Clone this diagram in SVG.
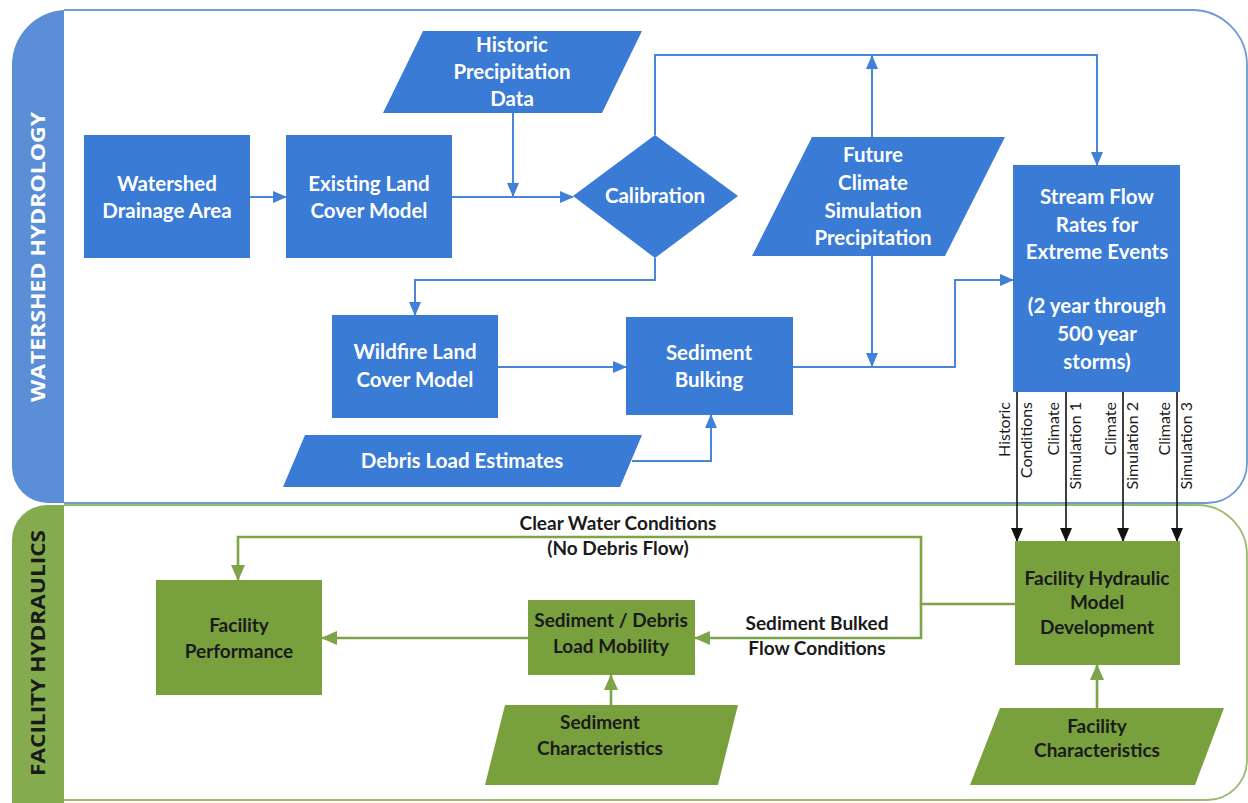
<svg xmlns="http://www.w3.org/2000/svg" width="1248" height="803" viewBox="0 0 1248 803">
  <style>
    .bnode { fill: #3a7bd5; }
    .gnode { fill: #78a13e; }
    .wt { fill: #ffffff; font-family: Lato, "Liberation Sans", sans-serif; font-weight: bold; font-size: 20.5px; text-anchor: middle; }
    .dt { fill: #1a1a1a; font-family: Lato, "Liberation Sans", sans-serif; font-weight: bold; font-size: 19px; text-anchor: middle; }
    .lbl { fill: #1a1a1a; font-family: Lato, "Liberation Sans", sans-serif; font-weight: bold; font-size: 19px; text-anchor: middle; }
    .vl { fill: #1a1a1a; font-family: Lato, "Liberation Sans", sans-serif; font-size: 16px; text-anchor: end; }
    .band { font-family: "Open Sans", "Liberation Sans", sans-serif; font-weight: bold; font-size: 20px; text-anchor: middle; }
    .cb { fill: none; stroke: #4a86d8; stroke-width: 2; }
    .cg { fill: none; stroke: #7ea44a; stroke-width: 2.6; }
    .ck { fill: none; stroke: #111111; stroke-width: 1.6; }
  </style>
  <defs>
    <marker id="ab" markerUnits="userSpaceOnUse" markerWidth="14" markerHeight="14" viewBox="0 0 14 14" refX="13" refY="7" orient="auto">
      <path d="M0,1 L14,7 L0,13 Z" fill="#3f80d8"/>
    </marker>
    <marker id="ag" markerUnits="userSpaceOnUse" markerWidth="16" markerHeight="16" viewBox="0 0 16 16" refX="15" refY="8" orient="auto">
      <path d="M0,1 L16,8 L0,15 Z" fill="#7ea44a"/>
    </marker>
    <marker id="ak" markerUnits="userSpaceOnUse" markerWidth="14" markerHeight="14" viewBox="0 0 14 14" refX="13" refY="7" orient="auto">
      <path d="M0,1 L14,7 L0,13 Z" fill="#111111"/>
    </marker>
  </defs>

  <rect width="1248" height="803" fill="#ffffff"/>

  <!-- Watershed hydrology panel -->
  <g id="panel-watershed">
    <path d="M64,10 H1192 A55,55 0 0 1 1247,65 V463 A40,40 0 0 1 1207,503 H64" fill="none" stroke="#6b9ad9" stroke-width="1.8"/>
    <path d="M64,10 V503 H48 A36,36 0 0 1 12,467 V65 A55,55 0 0 1 64,10 Z" fill="#5a8fd8"/>
    <text class="band" fill="#ffffff" transform="translate(45,257) rotate(-90)" textLength="290" lengthAdjust="spacingAndGlyphs">WATERSHED HYDROLOGY</text>
  </g>

  <!-- Facility hydraulics panel -->
  <g id="panel-facility">
    <path d="M64,505 H1197 A50,50 0 0 1 1247,555 V760 A40,40 0 0 1 1207,800 H64" fill="none" stroke="#9bbb6c" stroke-width="1.8"/>
    <path d="M64,505 V803 H12 V540 A35,35 0 0 1 47,505 Z" fill="#84ab4e"/>
    <text class="band" fill="#1a1a1a" transform="translate(45,653) rotate(-90)" textLength="246" lengthAdjust="spacingAndGlyphs">FACILITY HYDRAULICS</text>
  </g>

  <!-- Connectors -->
  <g id="connectors">
    <path class="cb" d="M250,197 H286" marker-end="url(#ab)"/>
    <path class="cb" d="M452,197 H573" marker-end="url(#ab)"/>
    <path class="cb" d="M513,113 V196" marker-end="url(#ab)"/>
    <path class="cb" d="M655,135 V55 H1097 V165" marker-end="url(#ab)"/>
    <path class="cb" d="M872,137 V56" marker-end="url(#ab)"/>
    <path class="cb" d="M872,255 V366" marker-end="url(#ab)"/>
    <path class="cb" d="M655,258 V280 H415 V315" marker-end="url(#ab)"/>
    <path class="cb" d="M498,367 H626" marker-end="url(#ab)"/>
    <path class="cb" d="M793,367 H955 V280 H1013" marker-end="url(#ab)"/>
    <path class="cb" d="M632,461 H711 V415" marker-end="url(#ab)"/>

    <path class="ck" d="M1017,392 V541" marker-end="url(#ak)"/>
    <path class="ck" d="M1066,392 V541" marker-end="url(#ak)"/>
    <path class="ck" d="M1123,392 V541" marker-end="url(#ak)"/>
    <path class="ck" d="M1177,392 V541" marker-end="url(#ak)"/>
    <text class="vl" transform="translate(1010,402) rotate(-90)">Historic</text>
    <text class="vl" transform="translate(1032,402) rotate(-90)">Conditions</text>
    <text class="vl" transform="translate(1059,402) rotate(-90)">Climate</text>
    <text class="vl" transform="translate(1081,402) rotate(-90)">Simulation 1</text>
    <text class="vl" transform="translate(1116,402) rotate(-90)">Climate</text>
    <text class="vl" transform="translate(1138,402) rotate(-90)">Simulation 2</text>
    <text class="vl" transform="translate(1170,402) rotate(-90)">Climate</text>
    <text class="vl" transform="translate(1192,402) rotate(-90)">Simulation 3</text>

    <path class="cg" d="M1015,604 H921 V537 H238 V580" marker-end="url(#ag)"/>
    <path class="cg" d="M921,604 V638 H695" marker-end="url(#ag)"/>
    <path class="cg" d="M528,638 H322" marker-end="url(#ag)"/>
    <path class="cg" d="M611,705 V675" marker-end="url(#ag)"/>
    <path class="cg" d="M1097,708 V665" marker-end="url(#ag)"/>
    <text class="lbl" x="618" y="530">Clear Water Conditions</text>
    <text class="lbl" x="618" y="555">(No Debris Flow)</text>
    <text class="lbl" x="817" y="630">Sediment Bulked</text>
    <text class="lbl" x="817" y="655">Flow Conditions</text>
  </g>

  <!-- Hydrology nodes -->
  <g id="watershed-drainage-area">
    <rect class="bnode" x="84" y="135" width="166" height="123"/>
    <text class="wt" x="167" y="191">Watershed</text>
    <text class="wt" x="167" y="218">Drainage Area</text>
  </g>
  <g id="existing-land-cover">
    <rect class="bnode" x="286" y="135" width="166" height="123"/>
    <text class="wt" x="369" y="191">Existing Land</text>
    <text class="wt" x="369" y="218">Cover Model</text>
  </g>
  <g id="historic-precipitation">
    <polygon class="bnode" points="423,31 642,31 602,113 383,113"/>
    <text class="wt" x="512" y="52">Historic</text>
    <text class="wt" x="512" y="79">Precipitation</text>
    <text class="wt" x="512" y="106">Data</text>
  </g>
  <g id="calibration">
    <polygon class="bnode" points="655,135 738,196 655,258 573,196"/>
    <text class="wt" x="655" y="203">Calibration</text>
  </g>
  <g id="future-climate">
    <polygon class="bnode" points="812,137 1005,137 945,256 752,256"/>
    <text class="wt" x="873" y="162">Future</text>
    <text class="wt" x="873" y="190">Climate</text>
    <text class="wt" x="873" y="218">Simulation</text>
    <text class="wt" x="873" y="245">Precipitation</text>
  </g>
  <g id="stream-flow-rates">
    <rect class="bnode" x="1013" y="165" width="167" height="227"/>
    <text class="wt" x="1097" y="204">Stream Flow</text>
    <text class="wt" x="1097" y="232">Rates for</text>
    <text class="wt" x="1097" y="259">Extreme Events</text>
    <text class="wt" x="1097" y="313">(2 year through</text>
    <text class="wt" x="1097" y="341">500 year</text>
    <text class="wt" x="1097" y="369">storms)</text>
  </g>
  <g id="wildfire-land-cover">
    <rect class="bnode" x="332" y="315" width="166" height="103"/>
    <text class="wt" x="415" y="359">Wildfire Land</text>
    <text class="wt" x="415" y="387">Cover Model</text>
  </g>
  <g id="sediment-bulking">
    <rect class="bnode" x="626" y="317" width="167" height="98"/>
    <text class="wt" x="709" y="360">Sediment</text>
    <text class="wt" x="709" y="387">Bulking</text>
  </g>
  <g id="debris-load-estimates">
    <polygon class="bnode" points="305,435 642,435 620,487 283,487"/>
    <text class="wt" x="462" y="468">Debris Load Estimates</text>
  </g>

  <!-- Hydraulics nodes -->
  <g id="facility-performance">
    <rect class="gnode" x="156" y="580" width="166" height="115"/>
    <text class="dt" x="239" y="632">Facility</text>
    <text class="dt" x="239" y="658">Performance</text>
  </g>
  <g id="sediment-debris-mobility">
    <rect class="gnode" x="528" y="600" width="167" height="75"/>
    <text class="dt" x="611" y="627">Sediment / Debris</text>
    <text class="dt" x="611" y="653">Load Mobility</text>
  </g>
  <g id="sediment-characteristics">
    <polygon class="gnode" points="505,705 738,705 718,785 485,785"/>
    <text class="dt" x="600" y="729">Sediment</text>
    <text class="dt" x="600" y="755">Characteristics</text>
  </g>
  <g id="facility-hydraulic-model">
    <rect class="gnode" x="1015" y="541" width="165" height="124"/>
    <text class="dt" x="1097" y="585">Facility Hydraulic</text>
    <text class="dt" x="1097" y="609">Model</text>
    <text class="dt" x="1097" y="634">Development</text>
  </g>
  <g id="facility-characteristics">
    <polygon class="gnode" points="1000,708 1224,708 1195,785 970,785"/>
    <text class="dt" x="1097" y="733">Facility</text>
    <text class="dt" x="1097" y="757">Characteristics</text>
  </g>
</svg>
